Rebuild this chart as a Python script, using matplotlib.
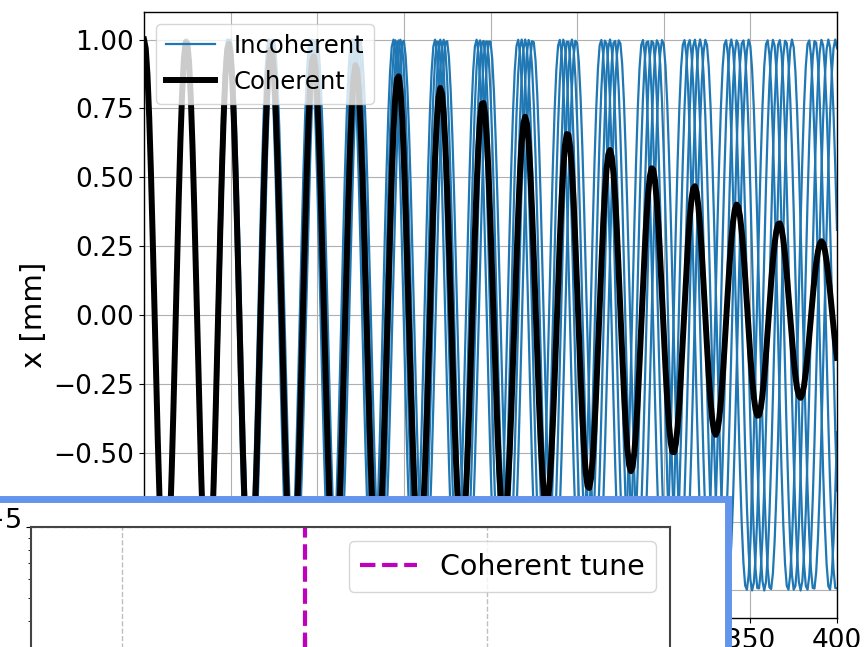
import numpy as np
import matplotlib
matplotlib.use('Agg')
import matplotlib.pyplot as plt
import matplotlib.ticker as ticker
from matplotlib.patches import Rectangle

plt.rcParams.update({
    'font.family': 'DejaVu Sans',
    'axes.linewidth': 1.0,
})

# fractional tunes of the test particles
TUNES = [0.0401, 0.0405, 0.0409, 0.0413, 0.0417]
AMPLITUDE_MM = 1.0
N_TURNS = 400

# inset (tune spectrum, mostly hidden below the frame)
COHERENT_TUNE = 0.0409
SPECTRUM_PEAK = 3.4e-6
INSET_XTICKS = [0.0404, 0.0414]

turns = np.arange(N_TURNS + 1)
signals = [AMPLITUDE_MM * np.cos(2 * np.pi * q * turns) for q in TUNES]
centroid = np.mean(signals, axis=0)

fig = plt.figure(figsize=(8.66, 6.47), dpi=100)

# main plot
ax = fig.add_axes([0.1663, 0.0448, 0.8002, 0.9367])
for i, s in enumerate(signals):
    ax.plot(turns, s, color='#1f77b4', lw=1.6,
            label='Incoherent' if i == 0 else None)
ax.plot(turns, centroid, color='black', lw=4.3, label='Coherent')
ax.set_xlim(0, N_TURNS)
ax.set_ylim(-1.1, 1.1)
ax.xaxis.set_major_locator(ticker.MultipleLocator(50))
ax.yaxis.set_major_locator(ticker.MultipleLocator(0.25))
ax.tick_params(labelsize=19)
ax.set_ylabel('x [mm]', fontsize=21)
ax.grid(True)
ax.legend(loc='upper left', fontsize=17.5)

# pasted inset with blue frame
box = Rectangle((-0.05, -0.3), 0.8412 + 0.05, 0.2295 + 0.3,
                transform=fig.transFigure, facecolor='white',
                edgecolor='cornflowerblue', lw=5, zorder=5)
fig.add_artist(box)

ax_in = fig.add_axes([0.0358, -0.5410, 0.7379, 0.7264], zorder=6)
ax_in.set_yscale('log')
ax_in.vlines(COHERENT_TUNE, 1e-7, SPECTRUM_PEAK, color='black', lw=3)
ax_in.axvline(COHERENT_TUNE, color='m', ls='--', lw=3, label='Coherent tune')
ax_in.set_xlim(0.04015, 0.0419)
ax_in.set_ylim(1e-7, 1e-5)
ax_in.set_xticks(INSET_XTICKS)
ax_in.tick_params(labelsize=28)
ax_in.grid(True, ls='--', color='gray', alpha=0.5, lw=1)
for sp in ax_in.spines.values():
    sp.set_linewidth(1.5)
    sp.set_color('#444444')
ax_in.legend(loc='upper right', fontsize=20.5)

fig.savefig('out.png', dpi=100)
plt.close(fig)
